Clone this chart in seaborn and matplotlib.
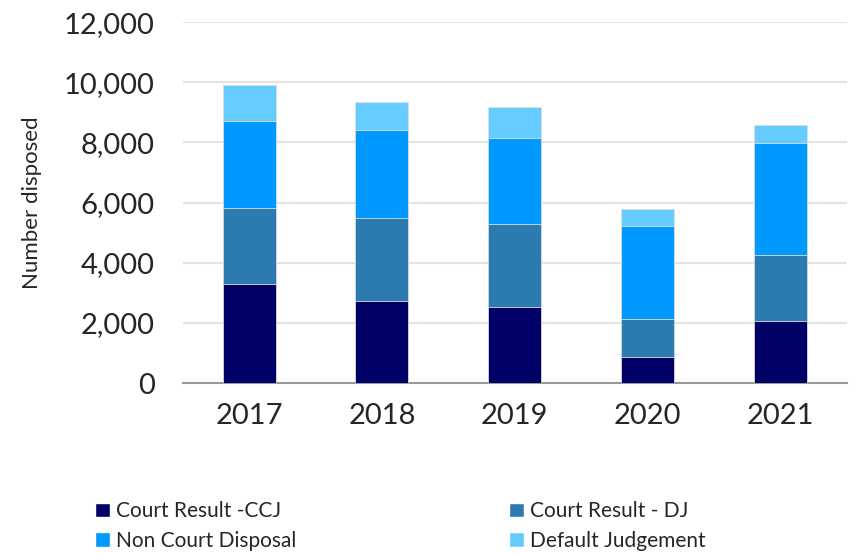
import matplotlib
matplotlib.use("Agg")
from matplotlib import pyplot as plt
from matplotlib.patches import Patch
import pandas as pd
import seaborn as sns

years = ["2017", "2018", "2019", "2020", "2021"]
ccj = [3290, 2730, 2530, 865, 2060]
dj = [2530, 2755, 2755, 1265, 2195]
non_court = [2890, 2925, 2860, 3090, 3725]
default_judgement = [1195, 930, 1030, 565, 600]

series = ["Court Result -CCJ", "Court Result - DJ", "Non Court Disposal", "Default Judgement"]
colors = ["#000066", "#2B7BB0", "#0099FF", "#66CCFF"]

df = pd.DataFrame({"Year": years, series[0]: ccj, series[1]: dj,
                   series[2]: non_court, series[3]: default_judgement})

sns.set_style("white")
plt.rcParams["font.family"] = ["Lato", "DejaVu Sans"]

f = plt.figure(figsize=(8.5, 5.53), dpi=100)
ax = f.add_axes([0.215, 0.307, 0.781, 0.653])

# stacked: draw cumulative totals, tallest first
cum = df[series].cumsum(axis=1)
for name, col in reversed(list(zip(series, colors))):
    sns.barplot(x=df["Year"], y=cum[name], color=col, width=0.4, saturation=1,
                edgecolor="#dddddd", linewidth=0.6, ax=ax, zorder=3)

ax.set_ylim(0, 12000)
ax.set_xlim(-0.5, 4.5)
ax.set_yticks(range(0, 12001, 2000))
ax.set_yticklabels([f"{v:,}" for v in range(0, 12001, 2000)])
ax.yaxis.grid(True, color="#e3e3e3", linewidth=1.5, zorder=0)
ax.set_axisbelow(True)
for s in ["top", "right", "left"]:
    ax.spines[s].set_visible(False)
ax.spines["bottom"].set_color("#999999")
ax.spines["bottom"].set_linewidth(1.5)
ax.tick_params(axis="y", length=0, labelsize=21, pad=20)
ax.tick_params(axis="x", length=6, width=1.2, color="#999999", labelsize=21, pad=8)
ax.set_xlabel("")
ax.set_ylabel("Number disposed", fontsize=16, labelpad=16)

handles = [Patch(facecolor=c, label=n) for n, c in zip(series, colors)]
order = [0, 2, 1, 3]
f.legend([handles[i] for i in order], [series[i] for i in order], ncol=2,
         loc="lower left", bbox_to_anchor=(0.09, -0.03), frameon=False,
         fontsize=15, handlelength=0.7, handleheight=0.7, handletextpad=0.3,
         columnspacing=10.2, labelspacing=0.45)

f.savefig("out.png", dpi=100)
